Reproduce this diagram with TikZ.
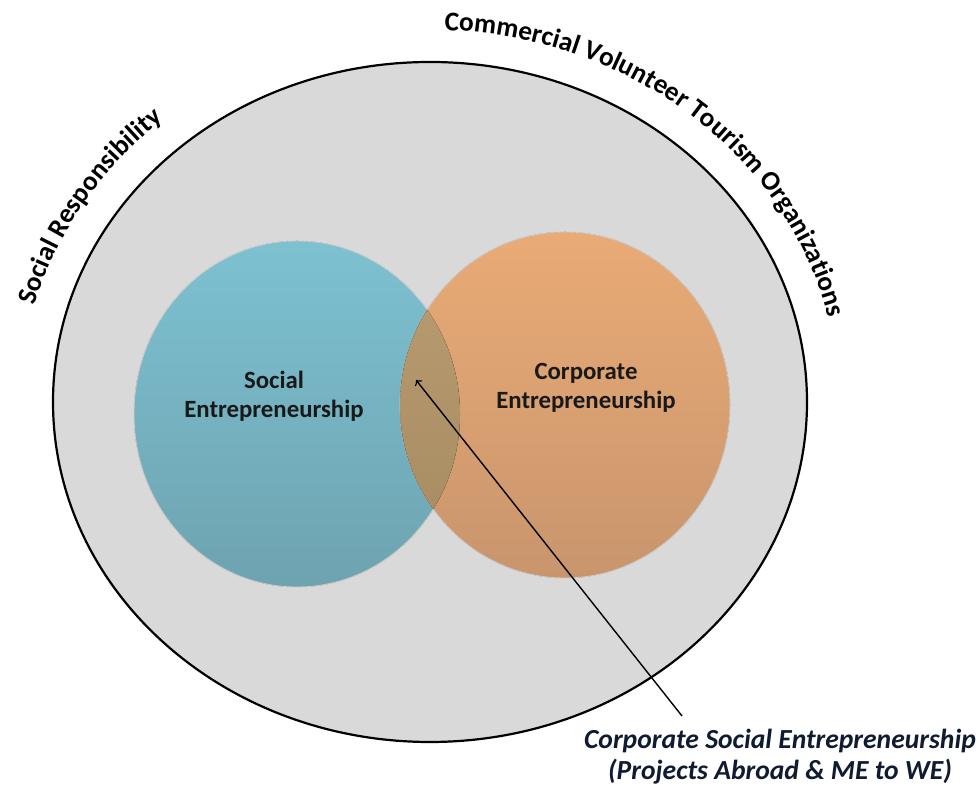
\documentclass[tikz,border=0pt]{standalone}
\usepackage{fontspec}
\setmainfont{Carlito}
\usetikzlibrary{decorations.text}

\definecolor{outergray}{HTML}{D9D9D9}
\definecolor{blueTop}{HTML}{7DC1D1}
\definecolor{blueBot}{HTML}{6EA3B0}
\definecolor{orangeTop}{HTML}{E9AB76}
\definecolor{orangeBot}{HTML}{C9956D}
\definecolor{lensTop}{HTML}{BB9E72}
\definecolor{lensBot}{HTML}{A58960}
\definecolor{navytext}{HTML}{101A30}

\begin{document}
\begin{tikzpicture}[x=0.5pt,y=0.5pt,
    lbl/.style={font=\bfseries\fontsize{12.4}{14.4}\selectfont, align=center, text=black!90},
    capt/.style={font=\bfseries\itshape\fontsize{13.8}{15.5}\selectfont, align=center, text=navytext}]
    \useasboundingbox (0,0) rectangle (979,791);

    % Draw outer circle
    \filldraw[fill=outergray, line width=1.1pt] (430,389) ellipse [x radius=377, y radius=340];

    % Draw circle labels
    \path[decorate, decoration={text along path,
        text={|\bfseries\fontsize{13.6}{15}\selectfont|Social Responsibility}}]
        (34.9,485.3) arc[start angle=165, end angle=110, x radius=409, y radius=372];
    \path[decorate, decoration={text along path,
        text={|\bfseries\fontsize{13.6}{15}\selectfont|Commercial Volunteer Tourism Organizations}}]
        (444.3,760.8) arc[start angle=88, end angle=0, x radius=409, y radius=372];

    % Draw venn circles
    \fill[top color=blueTop, bottom color=blueBot, draw=black!20, line width=0.4pt] (297,377) ellipse [x radius=163, y radius=173];
    \fill[top color=orangeTop, bottom color=orangeBot, draw=black!20, line width=0.4pt] (565,386) ellipse [x radius=165, y radius=173];
    \begin{scope}
        \clip (297,377) ellipse [x radius=163, y radius=173];
        \fill[top color=lensTop, bottom color=lensBot] (565,386) ellipse [x radius=165, y radius=173];
    \end{scope}

    % Draw labels
    \node[lbl] (social) at (274,395) {Social\\Entrepreneurship};
    \node[lbl] (corporate) at (586,403) {Corporate\\Entrepreneurship};
    \node[capt] (cse) at (780,34) {Corporate Social Entrepreneurship\\(Projects Abroad \& ME to WE)};

    % Draw arrow
    \coordinate (lens) at (416,411);
    \coordinate (tail) at (682,75);
    \draw[->, line width=0.7pt] (tail) -- (lens);
\end{tikzpicture}
\end{document}
